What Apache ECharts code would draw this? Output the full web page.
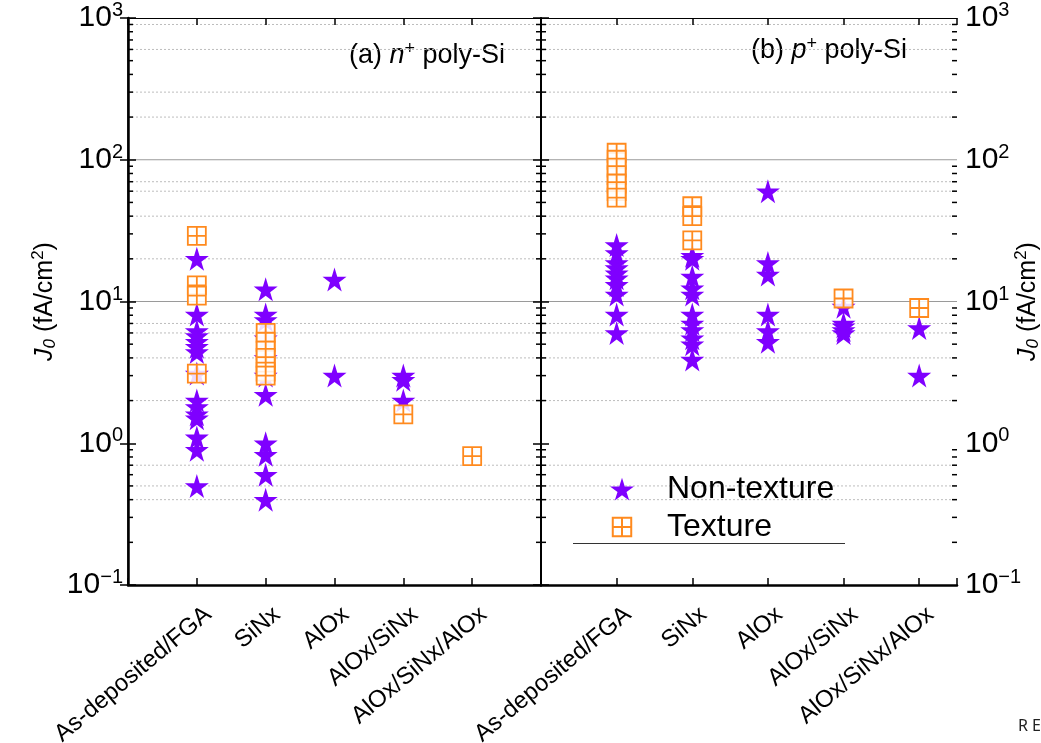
<!DOCTYPE html>
<html>
<head>
<meta charset="utf-8">
<script src="https://cdn.jsdelivr.net/npm/echarts@6/dist/echarts.min.js"></script>
<style>
  html, body { margin: 0; padding: 0; background: #fff; }
  #chart { width: 1041px; height: 743px; }
</style>
</head>
<body>
<div id="chart"></div>
<script>
// categorias del eje x (iguales en los dos paneles)
const categories = ['As-deposited/FGA', 'SiNx', 'AlOx', 'AlOx/SiNx', 'AlOx/SiNx/AlOx'];

// (a) n+ poly-Si, J0 en fA/cm2, una lista por categoria
const nNonTexture = [
  [20, 8.1, 6.2, 5.7, 5.2, 4.8, 4.4, 3.1, 2.0, 1.8, 1.6, 1.5, 1.1, 0.9, 0.5],
  [12.2, 8.1, 7.4, 5.5, 4.0, 3.0, 2.2, 1.0, 0.83, 0.6, 0.4],
  [14.3, 3.0],
  [3.0, 2.8, 2.0],
  []
];
const nTexture = [
  [29, 13, 11, 3.1],
  [6.0, 5.2, 4.5, 4.0, 3.5, 3.2, 3.0],
  [],
  [1.6],
  [0.81]
];

// (b) p+ poly-Si
const pNonTexture = [
  [25, 22, 18.7, 17.2, 15.8, 14.6, 13.1, 11.2, 8.1, 6.0],
  [21, 20, 15, 12.4, 11.2, 8.1, 7.0, 6.3, 5.5, 5.0, 3.9],
  [60, 18.7, 15.5, 8.1, 6.2, 5.2],
  [9.2, 7.0, 6.7, 6.3, 6.0],
  [6.5, 3.0]
];
const pTexture = [
  [112, 100, 88, 78, 68, 60, 54],
  [47, 40, 27],
  [],
  [10.5],
  [9.0]
];

// lineas de rejilla y ticks menores del eje log
const gridSolid = [10, 100];
const gridDashed = [900, 600, 300, 200, 70, 60, 40, 20, 7, 6, 4, 2, 0.7, 0.5, 0.4];
const minorTicks = [0.2, 0.3, 0.4, 0.5, 0.6, 0.7, 0.8, 0.9,
                    2, 3, 4, 5, 6, 7, 8, 9,
                    20, 30, 40, 50, 60, 70, 80, 90,
                    200, 300, 400, 500, 600, 700, 800, 900];

const FONT = 'Liberation Sans';
const PURPLE = '#7f00ff';
const ORANGE = '#ff8a1e';
const STAR = 'path://M50,0 L61,35 L98,35 L68,57 L79,91 L50,70 L21,91 L32,57 L2,35 L39,35 Z';
const BOX = 'path://M0,0 H20 V20 H0 Z M10,0 V20 M0,10 H20';
// mismo simbolo con margen invisible para que el icono de la leyenda salga mas pequeño
const BOX_LEGEND = 'path://M-3,-3 L-3,-3 M23,23 L23,23 M0,0 H20 V20 H0 Z M10,0 V20 M0,10 H20';

function toPoints(lists) {
  const out = [];
  lists.forEach((vals, i) => vals.forEach(v => out.push([i + 1, v])));
  return out;
}

function logLabel(v) {
  const e = Math.round(Math.log10(v));
  return '{b|10}{s|' + (e < 0 ? '\u2212' + (-e) : e) + '}';
}
const logRich = {
  b: { fontSize: 30, fontFamily: FONT, color: '#000' },
  s: { fontSize: 20, fontFamily: FONT, color: '#000', padding: [0, 0, 15, 0] }
};
const nameRich = {
  i: { fontSize: 25, fontFamily: FONT, fontStyle: 'italic', color: '#000' },
  sub: { fontSize: 17, fontFamily: FONT, fontStyle: 'italic', color: '#000', padding: [11, 0, 0, 0] },
  t: { fontSize: 25, fontFamily: FONT, color: '#000' },
  sup: { fontSize: 17, fontFamily: FONT, color: '#000', padding: [0, 0, 13, 0] }
};
const yName = '{i|J}{sub|0}{t| (fA/cm}{sup|2}{t|)}';

function xAxisFor(grid, max, pos, labels, lw) {
  return {
    type: 'value', gridIndex: grid, min: 0, max: max, interval: 1, position: pos,
    axisLine: { lineStyle: { color: '#000', width: lw } },
    axisTick: { inside: true, length: 7, lineStyle: { color: '#000', width: 1.5 } },
    splitLine: { show: false },
    axisLabel: {
      show: labels, rotate: 40, margin: 36, fontSize: 24, fontFamily: FONT, color: '#000',
      padding: [0, -15, 0, 0],
      formatter: v => (Number.isInteger(v) && v >= 1 && v <= categories.length) ? categories[v - 1] : ''
    }
  };
}

function yAxisFor(grid, pos, labels, lw, name, gap, margin) {
  return {
    type: 'log', logBase: 10, gridIndex: grid, min: 0.1, max: 1000, position: pos,
    axisLine: { show: true, lineStyle: { color: '#000', width: lw } },
    axisTick: { inside: true, length: 8, lineStyle: { color: '#000', width: 1.5 } },
    splitLine: { show: false },
    axisLabel: { show: labels, margin: margin, formatter: logLabel, rich: logRich },
    name: name, nameLocation: 'middle', nameRotate: 90, nameGap: gap,
    nameMoveOverlap: false,
    nameTextStyle: { rich: nameRich }
  };
}

function gridLineSeries(idx, values, style) {
  return {
    type: 'custom', xAxisIndex: idx * 2, yAxisIndex: idx * 2, silent: true, z: 0,
    data: values.map(v => [0, v]),
    renderItem: (params, api) => {
      const cs = params.coordSys;
      const y = api.coord([0, api.value(1)])[1];
      return { type: 'line', shape: { x1: cs.x, y1: y, x2: cs.x + cs.width, y2: y }, style: style };
    }
  };
}

function minorTickSeries(idx) {
  return {
    type: 'custom', xAxisIndex: idx * 2, yAxisIndex: idx * 2, silent: true, z: 1,
    data: minorTicks.map(v => [0, v]),
    renderItem: (params, api) => {
      const cs = params.coordSys;
      const y = api.coord([0, api.value(1)])[1];
      const st = { stroke: '#000', lineWidth: 1.5 };
      return {
        type: 'group', children: [
          { type: 'line', shape: { x1: cs.x, y1: y, x2: cs.x + 5, y2: y }, style: st },
          { type: 'line', shape: { x1: cs.x + cs.width - 5, y1: y, x2: cs.x + cs.width, y2: y }, style: st }
        ]
      };
    }
  };
}

function scatter(idx, name, lists) {
  const tex = name === 'Texture';
  return {
    type: 'scatter', name: name, xAxisIndex: idx * 2, yAxisIndex: idx * 2,
    symbol: tex ? BOX : STAR, symbolSize: tex ? 18 : 24, z: tex ? 4 : 3,
    itemStyle: tex
      ? { color: 'rgba(255,255,255,0.85)', borderColor: ORANGE, borderWidth: 1.8, opacity: 1 }
      : { color: PURPLE, opacity: 1 },
    data: toPoints(lists)
  };
}

const chart = echarts.init(document.getElementById('chart'));

chart.setOption({
  backgroundColor: '#fff',
  animation: false,
  grid: [
    { left: 128, right: 500, top: 18, bottom: 158, outerBoundsMode: 'none' },
    { left: 541, right: 84, top: 18, bottom: 158, outerBoundsMode: 'none' }
  ],
  xAxis: [
    xAxisFor(0, 6, 'bottom', true, 2.5),
    xAxisFor(0, 6, 'top', false, 1),
    xAxisFor(1, 5.5, 'bottom', true, 2.5),
    xAxisFor(1, 5.5, 'top', false, 1)
  ],
  yAxis: [
    yAxisFor(0, 'left', true, 2.5, yName, 68, 5),
    yAxisFor(0, 'right', false, 1.5, '', 0, 5),
    yAxisFor(1, 'left', false, 1.5, '', 0, 5),
    yAxisFor(1, 'right', true, 2, yName, 56, 8)
  ],
  legend: {
    data: [{ name: 'Non-texture' }, { name: 'Texture', icon: BOX_LEGEND }],
    orient: 'vertical', left: 604, top: 468,
    itemWidth: 24, itemHeight: 24, itemGap: 6,
    textStyle: { fontSize: 32, fontFamily: FONT, color: '#000', padding: [0, 0, 0, 28] }
  },
  graphic: [
    {
      type: 'text', left: 349, top: 40,
      style: {
        text: '(a) {i|n}{s|+} poly-Si', fontSize: 27, fontFamily: FONT, fill: '#000',
        rich: { i: { fontSize: 27, fontFamily: FONT, fontStyle: 'italic' }, s: { fontSize: 18, fontFamily: FONT, padding: [0, 0, 13, 0] } }
      }
    },
    {
      type: 'text', left: 751, top: 35,
      style: {
        text: '(b) {i|p}{s|+} poly-Si', fontSize: 27, fontFamily: FONT, fill: '#000',
        rich: { i: { fontSize: 27, fontFamily: FONT, fontStyle: 'italic' }, s: { fontSize: 18, fontFamily: FONT, padding: [0, 0, 13, 0] } }
      }
    },
    { type: 'line', shape: { x1: 573, y1: 543.5, x2: 845, y2: 543.5 }, style: { stroke: '#333', lineWidth: 1 } },
    { type: 'text', left: 1018, top: 718, style: { text: 'R E', fontSize: 16, fontFamily: 'Noto Sans', fill: '#222' } }
  ],
  series: [
    gridLineSeries(0, gridSolid, { stroke: '#9a9a9a', lineWidth: 1 }),
    gridLineSeries(0, gridDashed, { stroke: '#bdbdbd', lineWidth: 1, lineDash: [2, 2] }),
    gridLineSeries(1, gridSolid, { stroke: '#9a9a9a', lineWidth: 1 }),
    gridLineSeries(1, gridDashed, { stroke: '#bdbdbd', lineWidth: 1, lineDash: [2, 2] }),
    minorTickSeries(0),
    minorTickSeries(1),
    scatter(0, 'Non-texture', nNonTexture),
    scatter(0, 'Texture', nTexture),
    scatter(1, 'Non-texture', pNonTexture),
    scatter(1, 'Texture', pTexture)
  ]
});

window.addEventListener('resize', () => chart.resize());
</script>
</body>
</html>
